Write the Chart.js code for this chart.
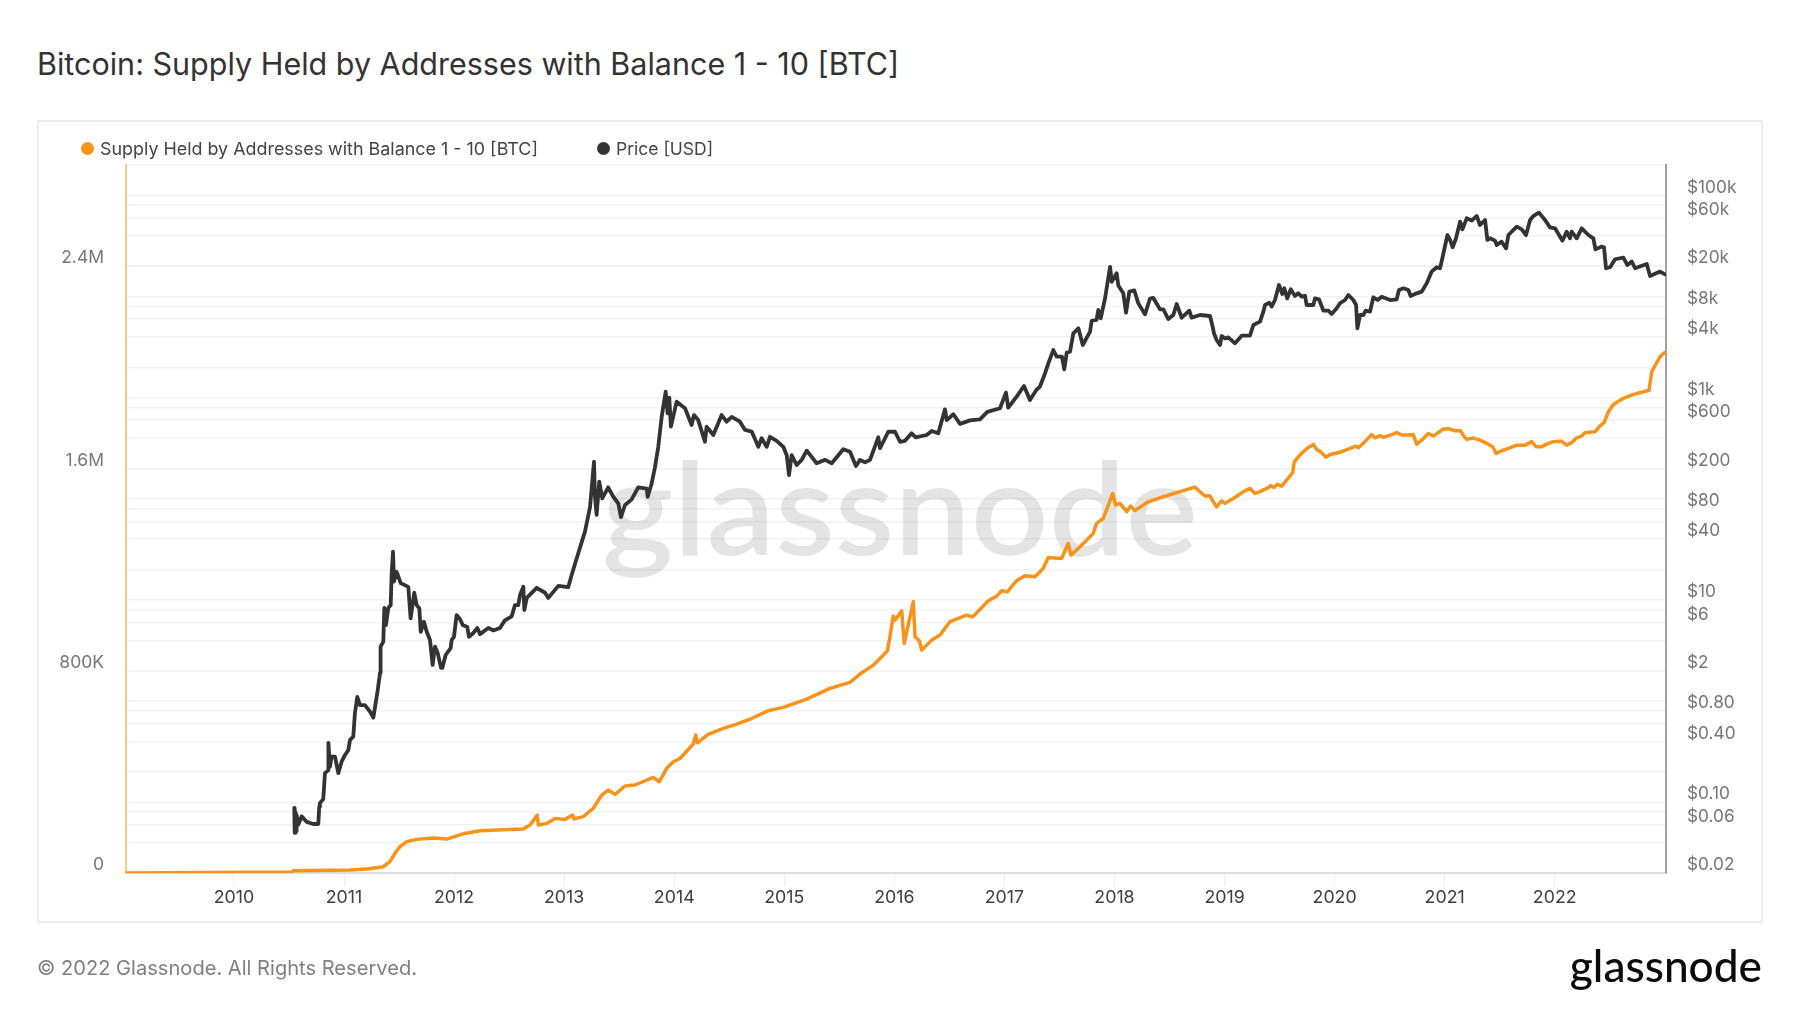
<!DOCTYPE html>
<html>
<head>
<meta charset="utf-8">
<title>Bitcoin: Supply Held by Addresses with Balance 1 - 10 [BTC]</title>
<script src="https://cdn.jsdelivr.net/npm/chart.js@4"></script>
<style>
  html, body { margin: 0; padding: 0; background: #fff; }
  body { width: 1800px; height: 1013px; position: relative; overflow: hidden; font-family: Inter, sans-serif; }
  #title { position: absolute; left: 37px; top: 44px; font-size: 30.5px; line-height: 40px; font-weight: 400; color: #333; white-space: nowrap; }
  #card { position: absolute; left: 37px; top: 120px; width: 1722px; height: 799px; border: 2px solid #ebebeb; }
  #chart { position: absolute; left: 0; top: 0; }
  .leg { position: absolute; top: 137px; font-size: 17.9px; line-height: 24px; color: #444; white-space: nowrap; }
  .dot { position: absolute; top: 142px; width: 13px; height: 13px; border-radius: 50%; }
  #foot { position: absolute; left: 37px; top: 955px; font-size: 20.1px; line-height: 26px; color: #808080; white-space: nowrap; }
  #logo { position: absolute; right: 38px; top: 937px; font-family: Lato, sans-serif; font-size: 44.2px; line-height: 56px; font-weight: 500; color: #0a0a0a; white-space: nowrap; }
</style>
</head>
<body>
<div id="title">Bitcoin: Supply Held by Addresses with Balance 1 - 10 [BTC]</div>
<div id="card"></div>
<canvas id="chart" width="1800" height="1013"></canvas>
<div class="dot" style="left:80.5px;background:#f7931a"></div>
<div class="leg" style="left:100px">Supply Held by Addresses with Balance 1 - 10 [BTC]</div>
<div class="dot" style="left:597px;background:#333"></div>
<div class="leg" style="left:616px;font-size:17.5px">Price [USD]</div>
<div id="foot">© 2022 Glassnode. All Rights Reserved.</div>
<div id="logo">glassnode</div>

<script>
/* x values are decimal years */
const supplyYears = [2009.02, 2010.145, 2010.53, 2010.539, 2011.054, 2011.206, 2011.357, 2011.417, 2011.463, 2011.508, 2011.569, 2011.66, 2011.811, 2011.933,
  2012.083, 2012.235, 2012.447, 2012.629, 2012.69, 2012.756, 2012.765, 2012.841, 2012.917, 2013.007, 2013.077, 2013.089, 2013.174, 2013.265, 2013.341, 2013.401, 2013.462, 2013.553, 2013.644, 2013.81, 2013.865, 2013.932, 2013.992,
  2014.052, 2014.173, 2014.195, 2014.209, 2014.309, 2014.446, 2014.567, 2014.688, 2014.855, 2014.991, 2015.204, 2015.415, 2015.597, 2015.688, 2015.809, 2015.936, 2015.96, 2015.99,
  2016.006, 2016.067, 2016.09, 2016.172, 2016.188, 2016.227, 2016.249, 2016.339, 2016.415, 2016.506, 2016.657, 2016.712, 2016.853, 2016.93, 2016.975,
  2017.026, 2017.111, 2017.187, 2017.278, 2017.353, 2017.399, 2017.52, 2017.58, 2017.605, 2017.687, 2017.807, 2017.838, 2017.898, 2017.984,
  2018.011, 2018.05, 2018.111, 2018.147, 2018.186, 2018.307, 2018.443, 2018.625, 2018.731, 2018.777, 2018.822, 2018.868, 2018.898, 2018.928, 2018.953, 2018.974,
  2019.004, 2019.08, 2019.171, 2019.231, 2019.277, 2019.322, 2019.398, 2019.419, 2019.449, 2019.48, 2019.519, 2019.564, 2019.619, 2019.634, 2019.67, 2019.716, 2019.761, 2019.807, 2019.837, 2019.873, 2019.922, 2019.958,
  2020.004, 2020.064, 2020.14, 2020.195, 2020.216, 2020.276, 2020.337, 2020.367, 2020.413, 2020.443, 2020.519, 2020.564, 2020.61, 2020.715, 2020.746, 2020.8, 2020.852, 2020.897, 2020.943, 2020.988,
  2021.034, 2021.094, 2021.146, 2021.17, 2021.2, 2021.261, 2021.321, 2021.382, 2021.436, 2021.467, 2021.518, 2021.579, 2021.655, 2021.73, 2021.791, 2021.83, 2021.882, 2021.927, 2021.988,
  2022.063, 2022.109, 2022.154, 2022.2, 2022.245, 2022.275, 2022.366, 2022.412, 2022.448, 2022.488, 2022.533, 2022.578, 2022.624, 2022.715, 2022.79, 2022.857, 2022.881, 2022.927, 2022.963, 2023.002];
const supplyValues = [0, 3000, 3500, 9000, 12000, 16000, 25000, 45000, 78000, 104000, 124000, 133000, 138000, 134000,
  155000, 167000, 171000, 174000, 190000, 229000, 190000, 196000, 216000, 212000, 229000, 214000, 223000, 256000, 308000, 328000, 311000, 344000, 348000, 378000, 361000, 414000, 440000,
  453000, 510000, 546000, 515000, 548000, 572000, 589000, 608000, 642000, 655000, 688000, 730000, 754000, 787000, 822000, 878000, 934000, 1016000,
  1000000, 1037000, 908000, 1073000, 934000, 918000, 882000, 921000, 941000, 994000, 1020000, 1013000, 1077000, 1095000, 1116000,
  1112000, 1156000, 1176000, 1172000, 1205000, 1248000, 1244000, 1304000, 1257000, 1290000, 1343000, 1383000, 1402000, 1501000,
  1455000, 1462000, 1429000, 1451000, 1433000, 1468000, 1488000, 1512000, 1526000, 1508000, 1491000, 1492000, 1468000, 1448000, 1462000, 1471000,
  1462000, 1481000, 1508000, 1521000, 1501000, 1508000, 1524000, 1532000, 1525000, 1537000, 1530000, 1554000, 1583000, 1626000, 1646000, 1666000, 1683000, 1695000, 1675000, 1666000, 1644000, 1655000,
  1659000, 1666000, 1679000, 1688000, 1682000, 1706000, 1734000, 1721000, 1730000, 1723000, 1734000, 1742000, 1732000, 1733000, 1696000, 1715000, 1738000, 1728000, 1742000, 1756000,
  1757000, 1749000, 1749000, 1730000, 1715000, 1720000, 1712000, 1699000, 1686000, 1659000, 1670000, 1679000, 1692000, 1692000, 1706000, 1686000, 1686000, 1696000, 1706000,
  1707000, 1692000, 1702000, 1721000, 1728000, 1741000, 1745000, 1768000, 1781000, 1824000, 1853000, 1866000, 1877000, 1893000, 1901000, 1909000, 1982000, 2019000, 2045000, 2059000];

const priceYears = [2010.548, 2010.55, 2010.553, 2010.556, 2010.56, 2010.565, 2010.569, 2010.584, 2010.615, 2010.66, 2010.72, 2010.766, 2010.775, 2010.781, 2010.811, 2010.827, 2010.857, 2010.858, 2010.872, 2010.887, 2010.918, 2010.948, 2010.978,
  2011.009, 2011.039, 2011.054, 2011.084, 2011.099, 2011.12, 2011.145, 2011.19, 2011.236, 2011.266, 2011.302, 2011.327, 2011.332, 2011.357, 2011.366, 2011.381, 2011.402, 2011.424, 2011.433, 2011.445, 2011.454, 2011.478, 2011.515, 2011.584, 2011.605, 2011.638, 2011.66, 2011.684, 2011.697, 2011.726, 2011.751, 2011.781, 2011.805, 2011.826, 2011.851, 2011.881, 2011.893, 2011.923, 2011.969, 2011.978, 2011.999,
  2012.023, 2012.053, 2012.078, 2012.12, 2012.135, 2012.175, 2012.211, 2012.236, 2012.311, 2012.357, 2012.417, 2012.462, 2012.523, 2012.553, 2012.583, 2012.599, 2012.629, 2012.638, 2012.66, 2012.75, 2012.826, 2012.856, 2012.947,
  2013.037, 2013.068, 2013.128, 2013.189, 2013.235, 2013.271, 2013.28, 2013.295, 2013.319, 2013.346, 2013.4, 2013.446, 2013.492, 2013.516, 2013.553, 2013.613, 2013.673, 2013.75, 2013.759, 2013.795, 2013.825, 2013.855, 2013.886, 2013.922, 2013.94, 2013.955, 2013.97,
  2014.022, 2014.098, 2014.158, 2014.179, 2014.218, 2014.279, 2014.294, 2014.355, 2014.431, 2014.476, 2014.522, 2014.597, 2014.643, 2014.704, 2014.764, 2014.794, 2014.84, 2014.87, 2014.931, 2014.991,
  2015.022, 2015.043, 2015.067, 2015.113, 2015.158, 2015.204, 2015.294, 2015.37, 2015.431, 2015.536, 2015.597, 2015.651, 2015.688, 2015.733, 2015.779, 2015.854, 2015.87, 2015.945,
  2016.006, 2016.051, 2016.097, 2016.157, 2016.194, 2016.294, 2016.339, 2016.399, 2016.46, 2016.476, 2016.536, 2016.597, 2016.687, 2016.778, 2016.845, 2016.96,
  2017.014, 2017.035, 2017.111, 2017.178, 2017.232, 2017.293, 2017.323, 2017.369, 2017.399, 2017.444, 2017.475, 2017.523, 2017.544, 2017.566, 2017.596, 2017.626, 2017.672, 2017.712, 2017.778, 2017.793, 2017.838, 2017.853, 2017.875, 2017.914, 2017.96, 2017.975,
  2018.02, 2018.035, 2018.08, 2018.105, 2018.135, 2018.18, 2018.217, 2018.277, 2018.323, 2018.353, 2018.414, 2018.444, 2018.489, 2018.535, 2018.565, 2018.611, 2018.68, 2018.701, 2018.777, 2018.868, 2018.892, 2018.904, 2018.928, 2018.959, 2018.974,
  2019.004, 2019.034, 2019.095, 2019.156, 2019.231, 2019.262, 2019.322, 2019.353, 2019.368, 2019.407, 2019.428, 2019.458, 2019.495, 2019.525, 2019.543, 2019.57, 2019.601, 2019.64, 2019.67, 2019.701, 2019.731, 2019.746, 2019.807, 2019.822, 2019.858, 2019.898, 2019.943, 2019.973,
  2020.019, 2020.049, 2020.095, 2020.125, 2020.17, 2020.195, 2020.207, 2020.231, 2020.261, 2020.282, 2020.322, 2020.352, 2020.391, 2020.428, 2020.504, 2020.564, 2020.585, 2020.625, 2020.67, 2020.691, 2020.746, 2020.791, 2020.837, 2020.882, 2020.928, 2020.958, 2020.979,
  2021.025, 2021.049, 2021.073, 2021.103, 2021.14, 2021.161, 2021.2, 2021.246, 2021.291, 2021.321, 2021.367, 2021.388, 2021.412, 2021.458, 2021.473, 2021.518, 2021.558, 2021.579, 2021.655, 2021.7, 2021.739, 2021.776, 2021.806, 2021.857, 2021.912, 2021.957,
  2022.003, 2022.07, 2022.109, 2022.139, 2022.154, 2022.2, 2022.245, 2022.306, 2022.351, 2022.37, 2022.427, 2022.448, 2022.466, 2022.503, 2022.548, 2022.624, 2022.66, 2022.7, 2022.73, 2022.836, 2022.866, 2022.957, 2023.002];
const priceValues = [0.088, 0.05, 0.085, 0.05, 0.08, 0.052, 0.075, 0.06, 0.0726, 0.0641, 0.061, 0.061, 0.0906, 0.0985, 0.107, 0.194, 0.208, 0.386, 0.225, 0.283, 0.283, 0.194, 0.252,
  0.294, 0.329, 0.413, 0.446, 0.76, 1.1, 0.914, 0.914, 0.787, 0.687, 1.2, 1.9, 3.46, 3.88, 8.34, 5.66, 8.34, 8.9, 18.5, 30, 15.2, 19, 14.7, 13.5, 6.6, 11.8, 8.9, 8.3, 4.85, 6.1, 4.85, 4.03, 2.28, 3.46, 3, 2.13, 2.13, 2.86, 3.35, 4.03, 4.33,
  7.1, 6.5, 5.66, 5.4, 4.33, 4.72, 5.3, 4.6, 5.3, 5, 5.3, 6.3, 6.9, 8.9, 8.9, 11.2, 13.5, 7.96, 10.5, 13.2, 11.8, 10.5, 13.8,
  13.4, 17.7, 29, 47.4, 83, 233, 105, 69.5, 148, 101, 130, 105, 90, 66, 87, 99, 130, 126, 105, 142, 205, 327, 647, 1146, 702, 1000, 518,
  914, 787, 538, 674, 601, 367, 518, 428, 674, 579, 647, 579, 480, 463, 327, 398, 327, 411, 375, 327,
  270, 172, 270, 216, 243, 300, 225, 243, 225, 310, 292, 211, 243, 230, 243, 406, 317, 461,
  461, 367, 375, 445, 406, 428, 469, 445, 767, 601, 686, 551, 597, 612, 726, 787,
  1124, 797, 1026, 1306, 951, 1206, 1290, 1740, 2190, 2960, 2550, 2550, 1910, 2790, 2850, 4330, 4860, 3320, 4500, 5770, 5900, 7380, 6100, 9570, 19700, 14000,
  17000, 12900, 10800, 6930, 11200, 11500, 8570, 6670, 9570, 9700, 7480, 7480, 6000, 6570, 8450, 6180, 7260, 6200, 6577, 6430, 5040, 4340, 3726, 3322, 4076,
  3864, 3955, 3451, 4110, 4110, 5240, 5650, 7100, 8260, 8710, 7960, 9250, 13030, 10610, 12080, 9610, 11800, 10140, 10770, 9980, 10200, 8260, 8260, 9610, 9400, 7260, 7260, 6730,
  7660, 8590, 9250, 10370, 9250, 8260, 4850, 6577, 6577, 7260, 7100, 9840, 9250, 9980, 9250, 9400, 11620, 12080, 11620, 10140, 10770, 11190, 13520, 17660, 19500, 19050, 23950,
  40650, 36300, 30700, 37700, 55100, 46200, 59400, 56400, 62700, 51000, 57200, 36300, 37700, 35700, 32400, 34900, 30000, 40650, 49200, 46200, 40650, 57200, 62700, 67600, 57200, 48400,
  47300, 35700, 43900, 37700, 43900, 37700, 47300, 40650, 37700, 29300, 31200, 30700, 19050, 19500, 23400, 24300, 20500, 22200, 19050, 21000, 16000, 17660, 16600];

const yearTicks = [2010, 2011, 2012, 2013, 2014, 2015, 2016, 2017, 2018, 2019, 2020, 2021, 2022];
const supplyTicks = [0, 800000, 1600000, 2400000];
const supplyTickLabels = ['0', '800K', '1.6M', '2.4M'];
const priceTicks = [0.02, 0.04, 0.06, 0.08, 0.1, 0.2, 0.4, 0.6, 0.8, 1, 2, 4, 6, 8, 10, 20, 40, 60, 80, 100, 200, 400, 600, 800, 1000,
  2000, 4000, 6000, 8000, 10000, 20000, 40000, 60000, 80000, 100000, 200000];
const priceTickLabels = ['$0.02', '', '$0.06', '', '$0.10', '', '$0.40', '', '$0.80', '', '$2', '', '$6', '', '$10', '', '$40', '', '$80', '', '$200', '', '$600', '', '$1k',
  '', '$4k', '', '$8k', '', '$20k', '', '$60k', '', '$100k', ''];

const ORANGE = '#f7931a';
const DARK = '#333333';

const toPoints = (xs, ys) => xs.map((x, i) => ({ x, y: ys[i] }));
const setTicks = values => scale => { scale.ticks = values.map(value => ({ value })); };

/* das Wasserzeichen liegt unter den Linien */
const watermark = {
  id: 'watermark',
  beforeDatasetsDraw(chart) {
    const c = chart.ctx;
    c.save();
    c.font = '600 130px Lato, sans-serif';
    c.fillStyle = 'rgba(0,0,0,0.105)';
    c.textBaseline = 'alphabetic';
    const w = c.measureText('glassnode').width;
    c.setTransform(596 / w, 0, 0, 1, 602, 555);
    c.fillText('glassnode', 0, 0);
    c.restore();
  },
};

new Chart(document.getElementById('chart'), {
  type: 'line',
  plugins: [watermark],
  data: {
    datasets: [
      { label: 'Supply Held by Addresses with Balance 1 - 10 [BTC]', data: toPoints(supplyYears, supplyValues), yAxisID: 'y',
        borderColor: ORANGE, backgroundColor: ORANGE, borderWidth: 3.5, borderJoinStyle: 'round', borderCapStyle: 'round', pointRadius: 0, tension: 0 },
      { label: 'Price [USD]', data: toPoints(priceYears, priceValues), yAxisID: 'y1',
        borderColor: DARK, backgroundColor: DARK, borderWidth: 3.8, borderJoinStyle: 'round', borderCapStyle: 'round', pointRadius: 0, tension: 0 },
    ],
  },
  options: {
    responsive: false, animation: false, devicePixelRatio: 1,
    layout: { padding: { top: 165, left: 0, right: 0, bottom: 0 } },
    plugins: { legend: { display: false }, tooltip: { enabled: false } },
    scales: {
      x: {
        type: 'linear', min: 2009.019, max: 2023.011,
        afterBuildTicks: setTicks(yearTicks),
        afterFit: s => { s.height = 140; },
        border: { color: '#dcdcdc', width: 2 },
        grid: { drawOnChartArea: false, tickLength: 13, color: '#efefef' },
        ticks: { padding: 1, autoSkip: false, maxRotation: 0, color: '#3c3c48', font: { family: 'Inter', size: 17.8 }, callback: v => String(v) },
      },
      y: {
        type: 'linear', position: 'left', min: 0, max: 2800000,
        afterBuildTicks: setTicks(supplyTicks),
        afterFit: s => { s.width = 126; },
        border: { color: 'rgba(247,147,26,0.5)', width: 2 },
        grid: { color: '#eeeeee', lineWidth: 1.5, drawTicks: false },
        ticks: { padding: 22, labelOffset: -8, autoSkip: false, color: '#777', font: { family: 'Inter', size: 17.5 },
                 callback: v => supplyTickLabels[supplyTicks.indexOf(v)] },
      },
      y1: {
        type: 'logarithmic', position: 'right', min: 0.02, max: 200000,
        afterBuildTicks: setTicks(priceTicks),
        afterFit: s => { s.width = 134; },
        border: { color: '#a0a0a0', width: 2 },
        grid: { color: '#f2f2f2', lineWidth: 1.5, drawTicks: false },
        ticks: { padding: 21, labelOffset: -8, autoSkip: false, color: '#777', font: { family: 'Inter', size: 17.3 },
                 callback: v => priceTickLabels[priceTicks.indexOf(v)] },
      },
    },
  },
});
</script>
</body>
</html>
